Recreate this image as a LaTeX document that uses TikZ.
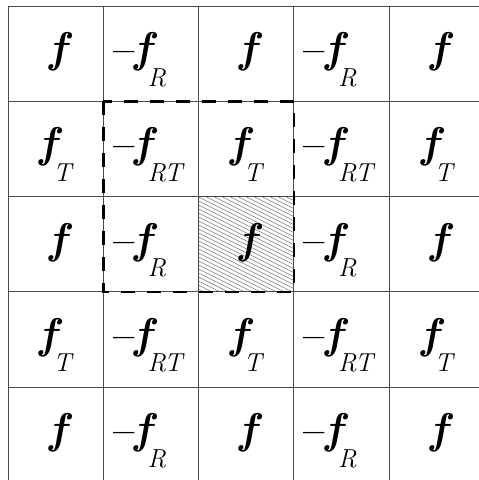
\documentclass[tikz,border=0pt]{standalone}
\usepackage{tikz}

\newcommand{\idx}[1]{\kern-4pt\raisebox{-23.5pt}{\fontsize{26pt}{26pt}\selectfont\mdseries\itshape #1}}
\newcommand{\mneg}{{\fontsize{38pt}{38pt}\selectfont\bfseries\upshape \textendash}}

\begin{document}
\begin{tikzpicture}[
        x=95.3pt, y=-95.3pt,
        gridline/.style={draw=black!70, line width=0.9pt},
        hatchline/.style={draw=black!60, line width=0.45pt},
        cutbox/.style={draw=black, line width=2.6pt, dash pattern=on 14pt off 12pt},
        fcell/.style={
            anchor=base,
            inner sep=0pt,
            font=\fontsize{43pt}{43pt}\selectfont\bfseries\itshape
        },
        mcell/.style={fcell, anchor=base west}
    ]
        \useasboundingbox (-0.084,-0.063) rectangle (4.942,4.974);

        % hatched centre cell
        \begin{scope}
            \clip (2,2) rectangle (3,3);
            \foreach \k in {0,...,37}
                \draw[hatchline] (2,1.5+\k*0.042) -- ++(1,0.5);
        \end{scope}

        % cell borders
        \foreach \i in {0,...,5} {
            \draw[gridline] (\i,0) -- (\i,5);
            \draw[gridline] (0,\i) -- (5,\i);
        }

        % cell entries
        \foreach \r/\sa/\sb in {1//R, 2/T/RT, 3//R, 4/T/RT, 5//R} {
            \foreach \c in {1,3,5}
                \node[fcell] (c\r\c) at (\c-0.5,\r-0.406) {f\idx{\sa}};
            \foreach \c in {2,4}
                \node[mcell] (c\r\c) at (\c-0.9,\r-0.406) {\mneg f\idx{\sb}};
        }

        % dashed window
        \draw[cutbox] (1,1) rectangle (3,3);
    \end{tikzpicture}
\end{document}
